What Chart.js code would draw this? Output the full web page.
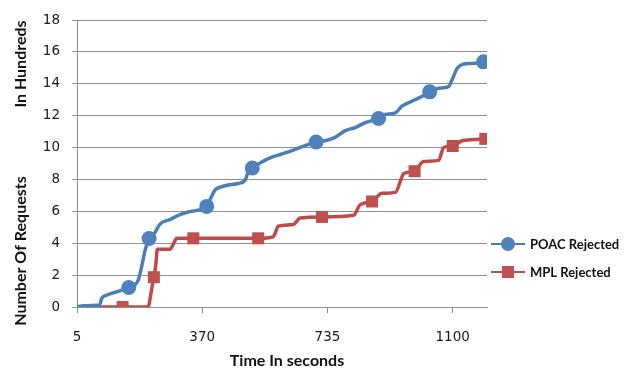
<!DOCTYPE html>
<html>
<head>
<meta charset="utf-8">
<script src="https://cdn.jsdelivr.net/npm/chart.js@4/dist/chart.umd.min.js"></script>
<style>
  html, body { margin: 0; padding: 0; background: #fff; }
  #wrap { width: 634px; height: 371px; }
</style>
</head>
<body>
<div id="wrap"><canvas id="c" width="634" height="371"></canvas></div>
<script>
// Time axis (seconds) and labelled ticks
const xTickLabels = [5, 370, 735, 1100];
const yTickLabels = [0, 2, 4, 6, 8, 10, 12, 14, 16, 18];

// POAC rejected requests (hundreds) over time
const poacTimes  = [5, 23, 71, 77, 91, 120, 156, 183, 193, 203, 215, 232, 246, 276, 305, 329, 354, 383, 397, 407, 427, 446, 475, 495, 504, 516, 543, 573, 602, 631, 670, 702, 728, 757, 786, 816, 845, 884, 903, 933, 952, 981, 1011, 1033, 1059, 1088, 1098, 1113, 1127, 1157, 1190];
const poacValues = [0, 0.08, 0.12, 0.54, 0.74, 0.95, 1.22, 1.67, 2.49, 3.52, 4.3, 4.66, 5.18, 5.49, 5.79, 5.96, 6.06, 6.31, 6.93, 7.34, 7.55, 7.65, 7.75, 7.96, 8.47, 8.72, 9.09, 9.4, 9.6, 9.81, 10.12, 10.35, 10.43, 10.64, 11.05, 11.26, 11.56, 11.83, 12.08, 12.18, 12.6, 12.91, 13.22, 13.5, 13.73, 13.83, 14.24, 14.97, 15.21, 15.28, 15.38];
const poacMarkerTimes = [156, 215, 383, 516, 702, 884, 1033, 1190];

// MPL rejected requests (hundreds) over time
const mplTimes  = [5, 138, 212, 222, 229, 235, 239, 276, 288, 295, 344, 533, 577, 592, 636, 655, 719, 811, 830, 865, 894, 933, 952, 957, 989, 1015, 1059, 1074, 1100, 1127, 1152, 1195];
const mplValues = [0, 0, 0, 1.05, 1.87, 2.7, 3.63, 3.63, 4.04, 4.31, 4.31, 4.31, 4.4, 5.07, 5.18, 5.58, 5.65, 5.75, 6.41, 6.62, 7.13, 7.19, 8.16, 8.37, 8.52, 9.13, 9.2, 10.02, 10.1, 10.43, 10.49, 10.55];
const mplMarkerTimes = [138, 229, 344, 533, 719, 865, 989, 1100, 1195];

const seriesNames = ['POAC Rejected', 'MPL Rejected'];
const yTitleTop = 'In Hundreds';
const yTitleBottom = 'Number Of Requests';
const xTitle = 'Time In seconds';

const BLUE = '#4A7EBB', BLUE_FILL = '#4F81BD';
const RED = '#BE4B48', RED_FILL = '#C0504D';
const GRID = '#8E8E8E';
const TITLE_FONT = 'Lato, "Open Sans", sans-serif';
const TICK_FONT = '"DejaVu Sans", sans-serif';

function toPoints(xs, ys) { return xs.map((x, i) => ({ x, y: ys[i] })); }

// Axis titles and the legend, drawn on top of the chart
const overlay = {
  id: 'overlay',
  afterDraw(chart) {
    const ctx = chart.ctx;
    const a = chart.chartArea;
    ctx.save();
    ctx.fillStyle = '#111';
    ctx.font = 'bold 16px ' + TITLE_FONT;
    ctx.textAlign = 'center';
    ctx.textBaseline = 'middle';
    ctx.fillText(xTitle, a.left + 210, 361);
    [[yTitleTop, 64], [yTitleBottom, 251]].forEach(([t, cy]) => {
      ctx.save();
      ctx.translate(21, cy);
      ctx.rotate(-Math.PI / 2);
      ctx.fillText(t, 0, 0);
      ctx.restore();
    });
    const rows = [
      { name: seriesNames[0], color: BLUE, fill: BLUE_FILL, style: 'circle', y: 244 },
      { name: seriesNames[1], color: RED, fill: RED_FILL, style: 'rect', y: 272 }
    ];
    rows.forEach(r => {
      const x0 = a.right + 4, x1 = a.right + 38, xm = (x0 + x1) / 2;
      ctx.strokeStyle = r.color;
      ctx.lineWidth = 2;
      ctx.beginPath(); ctx.moveTo(x0, r.y); ctx.lineTo(x1, r.y); ctx.stroke();
      ctx.fillStyle = r.fill;
      if (r.style === 'circle') {
        ctx.beginPath(); ctx.arc(xm, r.y, 7, 0, Math.PI * 2); ctx.fill();
      } else {
        ctx.fillRect(xm - 6, r.y - 6, 12, 12);
      }
      ctx.fillStyle = '#111';
      ctx.font = 'bold 13px ' + TITLE_FONT;
      ctx.textAlign = 'left';
      ctx.fillText(r.name, a.right + 43, r.y + 1);
    });
    ctx.restore();
  }
};

function markerRadius(marks, r) {
  return c => (c.raw && marks.includes(c.raw.x)) ? r : 0;
}

new Chart(document.getElementById('c'), {
  type: 'line',
  data: {
    datasets: [
      {
        label: seriesNames[0],
        data: toPoints(poacTimes, poacValues),
        borderColor: BLUE,
        backgroundColor: BLUE_FILL,
        borderWidth: 3.5,
        cubicInterpolationMode: 'monotone',
        pointStyle: 'circle',
        pointRadius: markerRadius(poacMarkerTimes, 7.5),
        pointBorderWidth: 0,
        pointHoverRadius: 0
      },
      {
        label: seriesNames[1],
        data: toPoints(mplTimes, mplValues),
        borderColor: RED,
        backgroundColor: RED_FILL,
        borderWidth: 3.5,
        cubicInterpolationMode: 'monotone',
        pointStyle: 'rect',
        pointRadius: markerRadius(mplMarkerTimes, 8.5),
        pointBorderWidth: 0,
        pointHoverRadius: 0
      }
    ]
  },
  options: {
    responsive: false,
    animation: false,
    events: [],
    layout: { padding: { left: 0, top: 16, right: 147, bottom: 0 } },
    plugins: { legend: { display: false }, tooltip: { enabled: false } },
    scales: {
      x: {
        type: 'linear',
        min: 5, max: 1200,
        afterBuildTicks: s => { s.ticks = xTickLabels.map(v => ({ value: v })); },
        afterFit: s => { s.height = 64; },
        grid: { drawOnChartArea: false, drawTicks: true, tickLength: 6, color: GRID },
        border: { color: GRID, width: 1 },
        ticks: { padding: 16, color: '#1a1a1a', font: { family: TICK_FONT, size: 13.5 }, maxRotation: 0, autoSkip: false,
                 callback: v => String(v) }
      },
      y: {
        min: 0, max: 18,
        afterBuildTicks: s => { s.ticks = yTickLabels.map(v => ({ value: v })); },
        afterFit: s => { s.width = 77; },
        grid: { color: GRID, tickLength: 5, lineWidth: 1 },
        border: { color: GRID, width: 1 },
        ticks: { padding: 12, color: '#1a1a1a', font: { family: TICK_FONT, size: 13.5 } }
      }
    }
  },
  plugins: [overlay]
});
</script>
</body>
</html>
